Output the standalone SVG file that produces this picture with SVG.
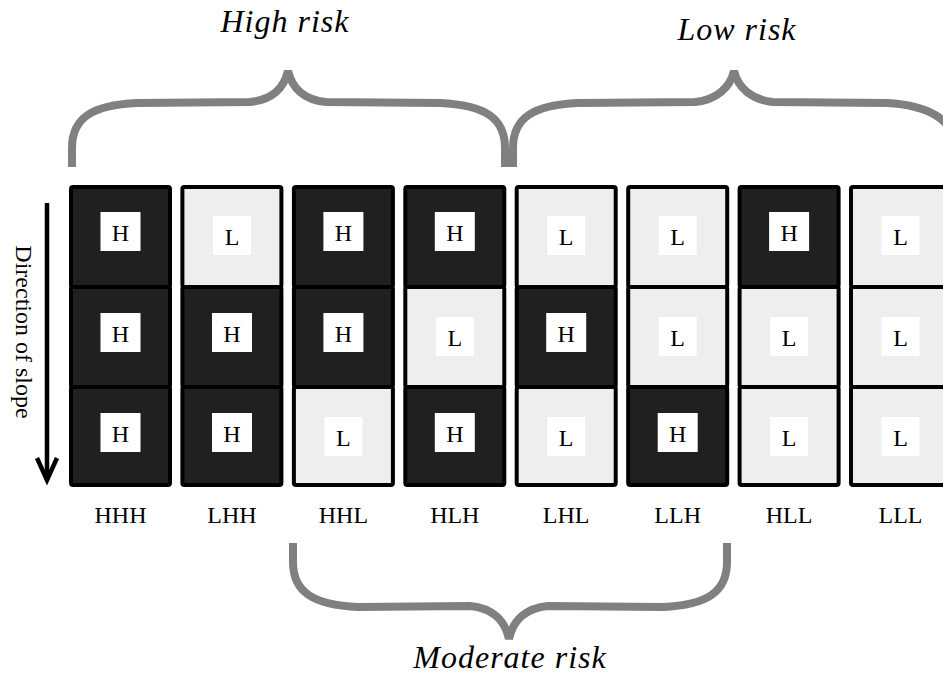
<svg xmlns="http://www.w3.org/2000/svg" width="943" height="677" viewBox="0 0 943 677">
<style>
.dk{fill:#202020;stroke:#000;stroke-width:4}
.lt{fill:#eeeeee;stroke:#000;stroke-width:4}
.bx{fill:#fff}
.t{font-family:"Liberation Serif","Times New Roman",serif;font-size:24px;fill:#000;text-anchor:middle}
.it{font-family:"Liberation Serif","Times New Roman",serif;font-size:32px;font-style:italic;letter-spacing:1px;fill:#000;text-anchor:middle}
.br{fill:none;stroke:#808080;stroke-width:8}
</style>
<rect width="943" height="677" fill="#fff"/>
<g id="braces" class="connectors">
<path class="br" d="M 72 167 L 72 148 C 72 118, 92 105, 137 103 L 250 102 C 272 100, 284 88, 288 71 C 292 88, 304 100, 326 102 L 440 103 C 485 105, 505 118, 505 148 L 505 167"/>
<path class="br" d="M 513 167 L 513 148 C 513 118, 533 105, 578 103 L 695 102 C 716 100, 730 88, 734 71 C 738 88, 752 100, 773 102 L 887 103 C 925 105, 955 118, 955 148 L 955 167"/>
<path class="br" d="M 293 543 L 293 562 C 293 592, 313 605, 358 607 L 470 606 C 492 608, 505 620, 509 639 C 513 620, 526 608, 548 606 L 663 607 C 707 605, 727 592, 727 562 L 727 543"/>
</g>
<g id="labels-risk">
<text class="it" x="285" y="32">High risk</text>
<text class="it" x="737" y="40">Low risk</text>
<text class="it" x="510" y="668">Moderate risk</text>
</g>
<g id="direction">
<line x1="47" y1="203" x2="47" y2="480" stroke="#000" stroke-width="4.5"/>
<polyline points="37,458 47,480 57,458" fill="none" stroke="#000" stroke-width="4.5"/>
<text class="t" transform="translate(16,332) rotate(90)">Direction of slope</text>
</g>
<g id="col-HHH">
<rect class="dk" x="71" y="187" width="99" height="100" rx="2"/>
<rect class="dk" x="71" y="287" width="99" height="100" rx="2"/>
<rect class="dk" x="71" y="387" width="99" height="98" rx="2"/>
<rect class="bx" x="100.5" y="212" width="40" height="39"/><text class="t" x="120.5" y="241">H</text>
<rect class="bx" x="100.5" y="313" width="40" height="39"/><text class="t" x="120.5" y="342">H</text>
<rect class="bx" x="100.5" y="413" width="40" height="39"/><text class="t" x="120.5" y="442">H</text>
<text class="t" x="120.5" y="523">HHH</text>
</g>
<g id="col-LHH">
<rect class="lt" x="182.4" y="187" width="99" height="100" rx="2"/>
<rect class="dk" x="182.4" y="287" width="99" height="100" rx="2"/>
<rect class="dk" x="182.4" y="387" width="99" height="98" rx="2"/>
<rect class="bx" x="213" y="216" width="38" height="39"/><text class="t" x="232" y="245">L</text>
<rect class="bx" x="212" y="313" width="40" height="39"/><text class="t" x="232" y="342">H</text>
<rect class="bx" x="212" y="413" width="40" height="39"/><text class="t" x="232" y="442">H</text>
<text class="t" x="232" y="523">LHH</text>
</g>
<g id="col-HHL">
<rect class="dk" x="293.9" y="187" width="99" height="100" rx="2"/>
<rect class="dk" x="293.9" y="287" width="99" height="100" rx="2"/>
<rect class="lt" x="293.9" y="387" width="99" height="98" rx="2"/>
<rect class="bx" x="323.4" y="212" width="40" height="39"/><text class="t" x="343.4" y="241">H</text>
<rect class="bx" x="323.4" y="313" width="40" height="39"/><text class="t" x="343.4" y="342">H</text>
<rect class="bx" x="324.4" y="417" width="38" height="39"/><text class="t" x="343.4" y="446">L</text>
<text class="t" x="343.4" y="523">HHL</text>
</g>
<g id="col-HLH">
<rect class="dk" x="405.3" y="187" width="99" height="100" rx="2"/>
<rect class="lt" x="405.3" y="287" width="99" height="100" rx="2"/>
<rect class="dk" x="405.3" y="387" width="99" height="98" rx="2"/>
<rect class="bx" x="434.8" y="212" width="40" height="39"/><text class="t" x="454.8" y="241">H</text>
<rect class="bx" x="435.8" y="317" width="38" height="39"/><text class="t" x="454.8" y="346">L</text>
<rect class="bx" x="434.8" y="413" width="40" height="39"/><text class="t" x="454.8" y="442">H</text>
<text class="t" x="454.8" y="523">HLH</text>
</g>
<g id="col-LHL">
<rect class="lt" x="516.7" y="187" width="99" height="100" rx="2"/>
<rect class="dk" x="516.7" y="287" width="99" height="100" rx="2"/>
<rect class="lt" x="516.7" y="387" width="99" height="98" rx="2"/>
<rect class="bx" x="547.2" y="216" width="38" height="39"/><text class="t" x="566.2" y="245">L</text>
<rect class="bx" x="546.2" y="313" width="40" height="39"/><text class="t" x="566.2" y="342">H</text>
<rect class="bx" x="547.2" y="417" width="38" height="39"/><text class="t" x="566.2" y="446">L</text>
<text class="t" x="566.2" y="523">LHL</text>
</g>
<g id="col-LLH">
<rect class="lt" x="628.2" y="187" width="99" height="100" rx="2"/>
<rect class="lt" x="628.2" y="287" width="99" height="100" rx="2"/>
<rect class="dk" x="628.2" y="387" width="99" height="98" rx="2"/>
<rect class="bx" x="658.7" y="216" width="38" height="39"/><text class="t" x="677.7" y="245">L</text>
<rect class="bx" x="658.7" y="317" width="38" height="39"/><text class="t" x="677.7" y="346">L</text>
<rect class="bx" x="657.7" y="413" width="40" height="39"/><text class="t" x="677.7" y="442">H</text>
<text class="t" x="677.7" y="523">LLH</text>
</g>
<g id="col-HLL">
<rect class="dk" x="739.6" y="187" width="99" height="100" rx="2"/>
<rect class="lt" x="739.6" y="287" width="99" height="100" rx="2"/>
<rect class="lt" x="739.6" y="387" width="99" height="98" rx="2"/>
<rect class="bx" x="769.1" y="212" width="40" height="39"/><text class="t" x="789.1" y="241">H</text>
<rect class="bx" x="770.1" y="317" width="38" height="39"/><text class="t" x="789.1" y="346">L</text>
<rect class="bx" x="770.1" y="417" width="38" height="39"/><text class="t" x="789.1" y="446">L</text>
<text class="t" x="789.1" y="523">HLL</text>
</g>
<g id="col-LLL">
<rect class="lt" x="851" y="187" width="99" height="100" rx="2"/>
<rect class="lt" x="851" y="287" width="99" height="100" rx="2"/>
<rect class="lt" x="851" y="387" width="99" height="98" rx="2"/>
<rect class="bx" x="881.5" y="216" width="38" height="39"/><text class="t" x="900.5" y="245">L</text>
<rect class="bx" x="881.5" y="317" width="38" height="39"/><text class="t" x="900.5" y="346">L</text>
<rect class="bx" x="881.5" y="417" width="38" height="39"/><text class="t" x="900.5" y="446">L</text>
<text class="t" x="900.5" y="523">LLL</text>
</g>
</svg>
